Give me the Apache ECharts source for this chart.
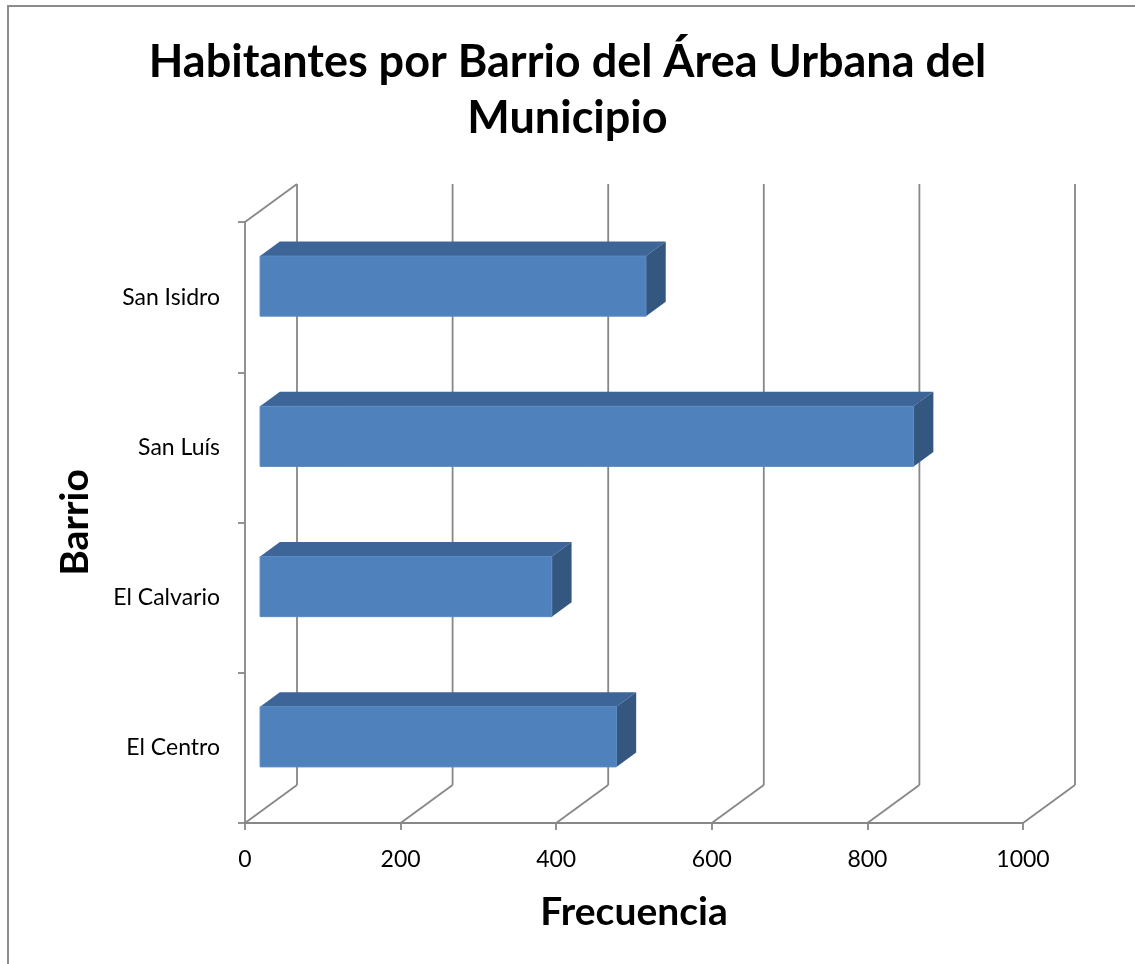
<!DOCTYPE html>
<html>
<head>
<meta charset="utf-8">
<style>
  html, body { margin: 0; padding: 0; background: #fff; }
  #chart { width: 1135px; height: 964px; }
</style>
<script src="https://cdn.jsdelivr.net/npm/echarts@6/dist/echarts.min.js"></script>
</head>
<body>
<div id="chart"></div>
<script>
// datos
const barrios = ['San Isidro', 'San Luís', 'El Calvario', 'El Centro']
const habitantes = [496, 840, 375, 458]
const xTicks = [0, 200, 400, 600, 800, 1000]

const FONT = 'Lato'
const GRID_COLOR = '#878787'
// vector de profundidad del efecto 3D (px)
const DEPTH = [52, -38]
const F0 = 0.29 // cara frontal de la barra
const F1 = 0.67 // cara trasera de la barra

const chart = echarts.init(document.getElementById('chart'))

function renderWalls (params, api) {
  const v = api.value(0)
  const cs = params.coordSys
  const x = api.coord([v, 0])[0]
  const top = cs.y
  const bottom = cs.y + cs.height
  const lineStyle = { stroke: GRID_COLOR, lineWidth: 1.8, fill: null }
  const children = [
    // linea vertical del fondo
    { type: 'line', shape: { x1: x + DEPTH[0], y1: top + DEPTH[1], x2: x + DEPTH[0], y2: bottom + DEPTH[1] }, style: lineStyle },
    // linea del piso
    { type: 'line', shape: { x1: x, y1: bottom, x2: x + DEPTH[0], y2: bottom + DEPTH[1] }, style: lineStyle }
  ]
  if (params.dataIndex === 0) {
    children.push({ type: 'line', shape: { x1: cs.x, y1: top, x2: cs.x + DEPTH[0], y2: top + DEPTH[1] }, style: lineStyle })
  }
  return { type: 'group', children }
}

function renderBar (params, api) {
  const val = api.value(0)
  const idx = api.value(1)
  const p0 = api.coord([0, idx])
  const p1 = api.coord([val, idx])
  const h = api.size([0, 1])[1] * 0.4
  const ox = F0 * DEPTH[0]
  const oy = F0 * DEPTH[1]
  const dx = (F1 - F0) * DEPTH[0]
  const dy = (F1 - F0) * DEPTH[1]
  const xl = p0[0] + ox
  const xr = p1[0] + ox
  const yt = p0[1] - h / 2 + oy
  const yb = p0[1] + h / 2 + oy
  return {
    type: 'group',
    children: [
      { type: 'polygon', shape: { points: [[xl, yt], [xr, yt], [xr + dx, yt + dy], [xl + dx, yt + dy]] }, style: { fill: '#3d6598' } },
      { type: 'polygon', shape: { points: [[xr, yt], [xr + dx, yt + dy], [xr + dx, yb + dy], [xr, yb]] }, style: { fill: '#34577f' } },
      { type: 'rect', shape: { x: xl, y: yt, width: xr - xl, height: yb - yt }, style: { fill: '#4f81bd', stroke: '#5a8ac4', lineWidth: 1 } }
    ]
  }
}

const option = {
  animation: false,
  backgroundColor: '#fff',
  title: {
    text: 'Habitantes por Barrio del Área Urbana del\nMunicipio',
    left: 'center',
    top: 29,
    textStyle: { fontFamily: FONT, fontWeight: 'bold', fontSize: 45, lineHeight: 56, color: '#000' }
  },
  graphic: [
    { type: 'polyline', shape: { points: [[8, 964], [8, 6], [1135, 6]] }, style: { stroke: '#8c8c8c', lineWidth: 2, fill: null } }
  ],
  grid: { left: 245, right: 112, top: 222, bottom: 141 },
  xAxis: {
    type: 'value',
    min: 0,
    max: 1000,
    interval: 200,
    name: 'Frecuencia',
    nameLocation: 'middle',
    nameGap: 70,
    nameTextStyle: { fontFamily: FONT, fontWeight: 'bold', fontSize: 39, color: '#000' },
    axisLine: { show: true, lineStyle: { color: GRID_COLOR, width: 1.8 } },
    axisTick: { show: true, length: 7, lineStyle: { color: GRID_COLOR, width: 1.8 } },
    axisLabel: { fontFamily: FONT, fontSize: 23, color: '#000', margin: 25, formatter: v => String(v) },
    splitLine: { show: false }
  },
  yAxis: {
    type: 'category',
    data: barrios,
    inverse: true,
    name: 'Barrio',
    nameLocation: 'middle',
    nameGap: 150,
    nameRotate: 90,
    nameTextStyle: { fontFamily: FONT, fontWeight: 'bold', fontSize: 39, color: '#000' },
    axisLine: { show: true, lineStyle: { color: GRID_COLOR, width: 1.8 } },
    axisTick: { show: true, length: 7, lineStyle: { color: GRID_COLOR, width: 1.8 } },
    axisLabel: { fontFamily: FONT, fontSize: 23, color: '#000', margin: 25, padding: [7, 0, 0, 0] },
    splitLine: { show: false }
  },
  series: [
    {
      type: 'custom',
      name: 'paredes',
      z: 1,
      silent: true,
      renderItem: renderWalls,
      data: xTicks.map(v => [v, 0])
    },
    {
      type: 'custom',
      name: 'Habitantes',
      z: 2,
      renderItem: renderBar,
      encode: { x: 0, y: 1 },
      data: habitantes.map((v, i) => [v, i])
    }
  ]
}

chart.setOption(option)
</script>
</body>
</html>
